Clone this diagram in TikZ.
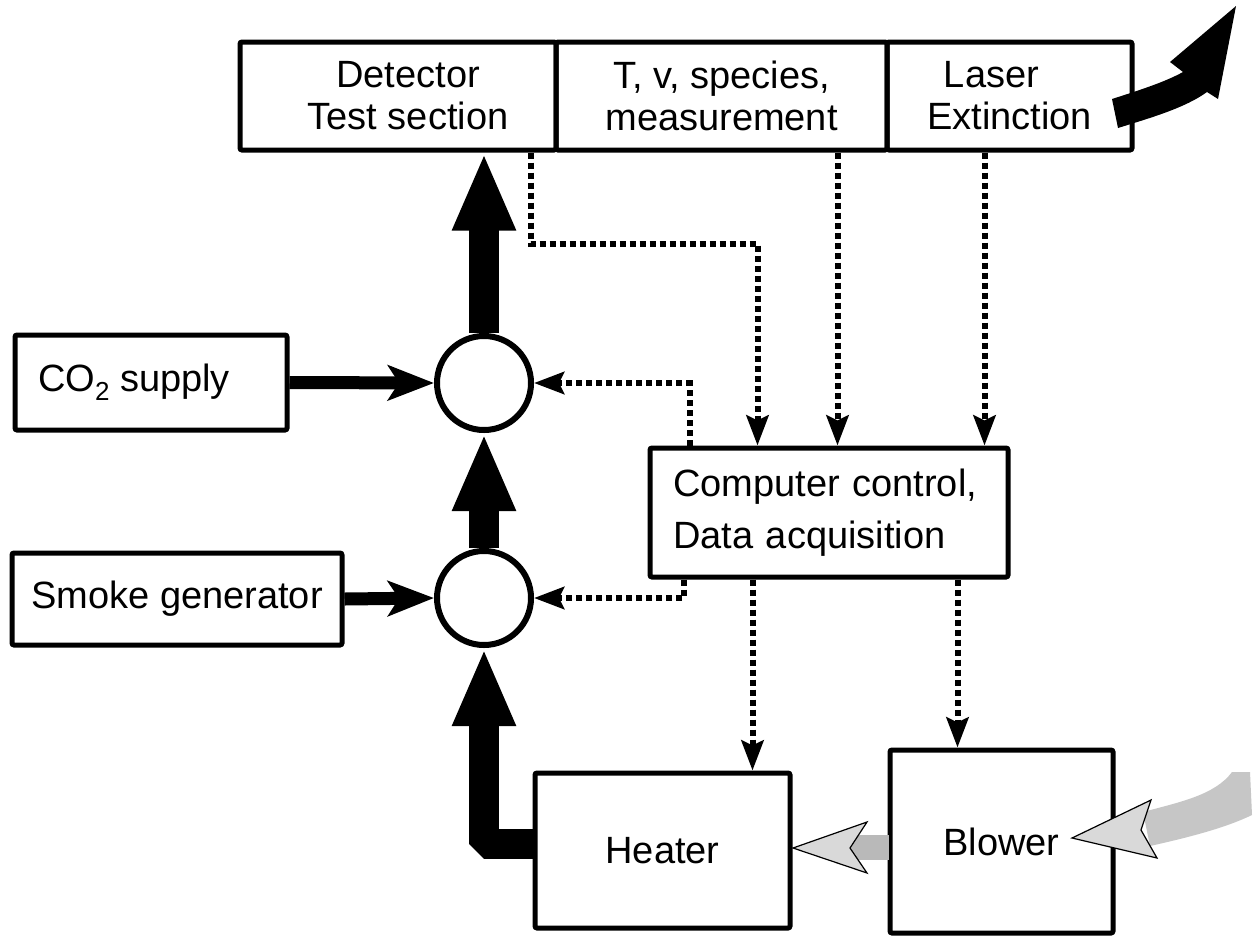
\documentclass[tikz,border=0pt]{standalone}
\usepackage{fontspec}
\setmainfont{Liberation Sans}
\usetikzlibrary{arrows.meta}
\begin{document}
\begin{tikzpicture}[x=1pt,y=-1pt,
  box/.style={draw, line width=5pt, rounded corners=2pt, inner sep=0pt,
    font=\fontsize{38}{42}\selectfont},
  mixer/.style={draw, circle, line width=6pt, minimum size=94pt, inner sep=0pt},
  flow/.style={line width=30pt, -{Triangle[length=78pt,width=58pt]}},
  feed/.style={line width=13pt, -{Stealth[length=46pt,width=35pt,inset=11pt]}},
  signal/.style={line width=6pt, dash pattern=on 6pt off 4pt,
    -{Stealth[length=30pt,width=22pt,inset=5pt]}},
  airhead/.style={fill=gray!30, draw=black, line width=1.2pt, line join=miter},
  airshaft/.style={fill=gray!55}]
\fill[white] (0,0) rectangle (1255,943);
\useasboundingbox (0,0) rectangle (1255,943);

% boxes
\node[box, align=center, minimum width=316pt, minimum height=108pt] (det) at (398,96)
  {\hspace*{20pt}Detector\\\hspace*{20pt}Test section};
\node[box, align=center, minimum width=331pt, minimum height=108pt] (meas) at (721.5,96) {T, v, species,\\measurement};
\node[box, align=center, minimum width=245pt, minimum height=108pt] (laser) at (1009.5,96)
  {\hspace*{-36pt}Laser\\Extinction};
\node[box, minimum width=272pt, minimum height=95pt] (co2) at (151,382.5)
  {\kern-34pt CO\raisebox{-9pt}{\fontsize{26}{26}\selectfont 2} supply};
\node[box, minimum width=330pt, minimum height=92pt] (smoke) at (177,599) {Smoke generator};
\node[box, align=left, text width=312pt, inner xsep=23pt, minimum height=129pt,
  font=\fontsize{38}{52}\selectfont] (comp) at (829,512.5) {Computer control,\\Data acquisition};
\node[box, minimum width=255pt, minimum height=155pt] (heater) at (662.5,850.5) {Heater};
\node[box, minimum width=223pt, minimum height=183pt] (blower) at (1001.5,841.5) {Blower};

% mixers
\node[mixer] (m1) at (484,383) {};
\node[mixer] (m2) at (484,598) {};

% main flow
\draw[flow] (m1.north) -- (m1.north |- det.south);
\draw[flow] (m2.north) -- (m1.south);
\draw[flow, line join=bevel] ([yshift=7pt]heater.west) -| (m2.south);
\draw[feed] (co2.east) -- (m1.west);
\draw[feed] (smoke.east) -- (m2.west);

% signals
\coordinate (s1) at ([xshift=-28pt]det.south east);
\coordinate (s2) at ([xshift=284pt]meas.south west);
\coordinate (s3) at ([xshift=100pt]laser.south west);
\coordinate (s4) at ([xshift=42pt]comp.north west);
\coordinate (s5) at ([xshift=36pt]comp.south west);
\coordinate (s6) at ([xshift=105pt]comp.south west);
\coordinate (s7) at ([xshift=310pt]comp.south west);
\draw[signal] (s1) -- ++(0,91) -| ([xshift=110pt]comp.north west);
\draw[signal] (s2) -- (s2 |- comp.north);
\draw[signal] (s3) -- (s3 |- comp.north);
\draw[signal] (s4) |- (m1.east);
\draw[signal] (s5) |- (m2.east);
\draw[signal] (s6) -- (s6 |- heater.north);
\draw[signal] (s7) -- (s7 |- blower.north);

% exhaust arrow (laser extinction)
\fill[black] (1112,99) .. controls (1140,90) and (1165,82) .. (1183,72) -- (1170,62) -- (1236,6)
  -- (1218,99) -- (1207,92) .. controls (1185,108) and (1150,118) .. (1118,128) -- cycle;

% air: blower to heater
\fill[airshaft] (848,835) rectangle (889,860);
\filldraw[airhead] (793,848) -- (867,822) -- (850,848) -- (867,873) -- cycle;

% air inlet into blower
\fill[airshaft, fill=gray!45] (1143,812) .. controls (1180,802) and (1215,795) .. (1232,772) -- (1250,772)
  -- (1252,815) .. controls (1225,828) and (1190,837) .. (1150,846) -- cycle;
\filldraw[airhead] (1072,838) -- (1151,800) -- (1141,830) -- (1157,858) -- cycle;
\end{tikzpicture}
\end{document}
